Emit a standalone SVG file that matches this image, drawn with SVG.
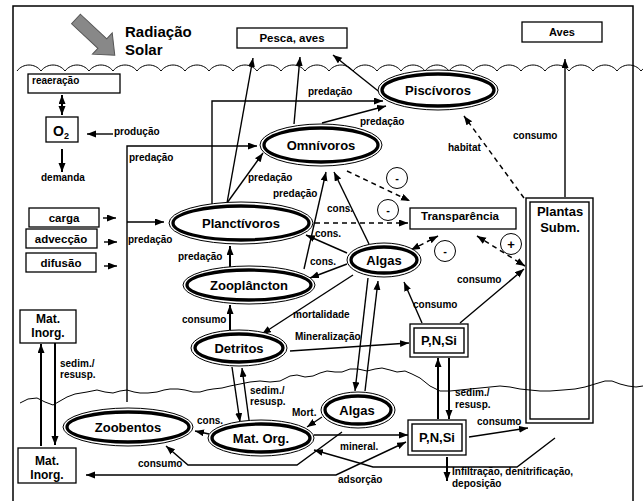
<svg xmlns="http://www.w3.org/2000/svg" width="643" height="501" viewBox="0 0 643 501">
<style>
text{font-family:"Liberation Sans",Arial,sans-serif;font-weight:bold;fill:#000}
.lb{font-size:10px}
.nd{font-size:13px;text-anchor:middle}
.bx{font-size:11.5px;text-anchor:middle}
.c{fill:none;stroke:#000;stroke-width:1.4}
.t{stroke-width:2}
.d{fill:none;stroke:#000;stroke-width:1.5;stroke-dasharray:5 4}
.box{fill:#fff;stroke:#000;stroke-width:1.3}
.eo{fill:#fff;stroke:#000;stroke-width:1}
.ei{fill:#fff;stroke:#000;stroke-width:3.3}
.db{fill:none;stroke:#000;stroke-width:1.4}
.sg{fill:#fff;stroke:#000;stroke-width:1}
.wave{fill:none;stroke:#000;stroke-width:1}
</style>
<defs>
<marker id="ah" markerUnits="userSpaceOnUse" markerWidth="10" markerHeight="8" refX="9" refY="3.5" orient="auto-start-reverse"><path d="M0,0 L9,3.5 L0,7 z" fill="#000"/></marker>
</defs>
<rect width="643" height="501" fill="#fff"/>
<rect x="13" y="6" width="620" height="520" fill="none" stroke="#000" stroke-width="1.5"/>

<g id="sun">
<polygon transform="translate(76,19) rotate(43)" points="0,-6.5 36,-6.5 36,-14.5 53,0 36,14.5 36,6.5 0,6.5" fill="#888" stroke="#555" stroke-width="1"/>
<text x="125" y="37" style="font-size:15px">Radiação</text>
<text x="125" y="55" style="font-size:15px">Solar</text>
</g>

<g id="surface">
<path class="wave" d="M17,71 c6,-8 18,-8 24,0 c6,-8 18,-8 24,0 c6,-8 18,-8 24,0 c6,-8 18,-8 24,0 c6,-8 18,-8 24,0 c6,-8 18,-8 24,0 c6,-8 18,-8 24,0 c6,-8 18,-8 24,0 c6,-8 18,-8 24,0 c6,-8 18,-8 24,0 c6,-8 18,-8 24,0 c6,-8 18,-8 24,0 c6,-8 18,-8 24,0 c6,-8 18,-8 24,0 c6,-8 18,-8 24,0 c6,-8 18,-8 24,0 c6,-8 18,-8 24,0 c6,-8 18,-8 24,0 c6,-8 18,-8 24,0 c6,-8 18,-8 24,0 c6,-8 18,-8 24,0 c6,-8 18,-8 24,0 c6,-8 18,-8 24,0 c6,-8 18,-8 24,0 c6,-8 18,-8 24,0 c6,-8 18,-8 24,0 c3,-4 6,-3 8,0"/>
<polyline class="wave" stroke-linejoin="round" points="20,403 28,399 37,398 45,402 53,405 60,401 67,397 75,394 87,392 97,390 105,392 113,393 120,391 127,390 134,392 140,393 148,393 157,392 164,390 170,389 178,389 185,390 193,392 200,392 207,390 213,389 222,388 230,386 240,384 250,382 260,381 270,382 280,381 290,376 297,375 305,377 313,376 320,373 327,371 335,372 342,372 350,369 358,369 367,371 375,369 382,368 390,370 397,372 405,371 412,374 420,378 430,386 440,391 450,391 460,390 470,389 480,388 490,387 500,386 510,387 520,389 530,390 540,391 550,391 563,390 575,389 585,387 595,384 605,381 612,381 620,384 628,386 636,387 643,386"/>
</g>

<g id="connectors">
<line class="c" x1="227" y1="203" x2="253" y2="58" marker-end="url(#ah)"/>
<line class="c" x1="294" y1="124" x2="300" y2="57" marker-end="url(#ah)"/>
<line class="c" x1="382" y1="94" x2="333" y2="55" marker-end="url(#ah)"/>
<polyline class="c" points="212,204 212,101 383,101" marker-end="url(#ah)"/>
<line class="c" x1="322" y1="123" x2="386" y2="106" marker-end="url(#ah)"/>
<polyline class="c" points="127,402 127,146 257,146" marker-end="url(#ah)"/>
<line class="c" x1="127" y1="222" x2="164" y2="222" marker-end="url(#ah)"/>
<line class="c" x1="227" y1="203" x2="263" y2="153" marker-end="url(#ah)"/>
<line class="c" x1="304" y1="269" x2="326" y2="172" marker-end="url(#ah)"/>
<line class="c" x1="369" y1="244" x2="334" y2="172" marker-end="url(#ah)"/>
<line class="c" x1="347" y1="253" x2="306" y2="235" marker-end="url(#ah)"/>
<line class="c" x1="347" y1="264" x2="310" y2="278" marker-end="url(#ah)"/>
<line class="c" x1="353" y1="275" x2="262" y2="334" marker-end="url(#ah)"/>
<line class="c t" x1="230" y1="267" x2="230" y2="246" marker-end="url(#ah)"/>
<line class="c t" x1="230" y1="331" x2="230" y2="305" marker-end="url(#ah)"/>
<line class="c" x1="290" y1="351" x2="409" y2="343" marker-end="url(#ah)"/>
<line class="c" x1="368" y1="278" x2="355" y2="391" marker-end="url(#ah)"/>
<line class="c" x1="365" y1="391" x2="378" y2="281" marker-end="url(#ah)"/>
<line class="c" x1="422" y1="323" x2="404" y2="282" marker-end="url(#ah)"/>
<line class="c" x1="460" y1="323" x2="524" y2="269" marker-end="url(#ah)"/>
<line class="c" x1="565" y1="197" x2="565" y2="59" marker-end="url(#ah)"/>
<line class="c t" x1="438" y1="419" x2="438" y2="358" marker-end="url(#ah)"/>
<line class="c t" x1="449" y1="358" x2="449" y2="419" marker-end="url(#ah)"/>
<line class="c" x1="232" y1="367" x2="240" y2="422" marker-end="url(#ah)"/>
<line class="c" x1="249" y1="420" x2="242" y2="368" marker-end="url(#ah)"/>
<line class="c" x1="322" y1="417" x2="307" y2="427" marker-end="url(#ah)"/>
<line class="c" x1="209" y1="434" x2="195" y2="431" marker-end="url(#ah)"/>
<line class="c" x1="314" y1="435" x2="408" y2="435" marker-end="url(#ah)"/>
<polyline class="c" points="86,475 336,475 406,442" marker-start="url(#ah)" marker-end="url(#ah)"/>
<polyline class="c" points="342,432 297,465 188,465 166,446" marker-end="url(#ah)"/>
<polyline class="c" points="555,438 517,467 373,467 314,450" marker-end="url(#ah)"/>
<line class="c" x1="469" y1="437" x2="528" y2="428" marker-end="url(#ah)"/>
<line class="c t" x1="447" y1="457" x2="447" y2="481" marker-end="url(#ah)"/>
<line class="c t" x1="41" y1="446" x2="41" y2="344" marker-end="url(#ah)"/>
<line class="c t" x1="55" y1="343" x2="55" y2="445" marker-end="url(#ah)"/>
<line class="c t" x1="62" y1="95" x2="62" y2="115" marker-start="url(#ah)" marker-end="url(#ah)"/>
<line class="c" x1="113" y1="134" x2="87" y2="134" marker-end="url(#ah)"/>
<line class="c t" x1="62" y1="149" x2="62" y2="172" marker-end="url(#ah)"/>
<line class="c" x1="103" y1="218" x2="116" y2="218" marker-end="url(#ah)"/>
<line class="c" x1="104" y1="242" x2="117" y2="242" marker-end="url(#ah)"/>
<line class="c" x1="104" y1="266" x2="117" y2="266" marker-end="url(#ah)"/>
<line class="d" x1="347" y1="171" x2="410" y2="201" marker-end="url(#ah)"/>
<line class="d" x1="315" y1="223" x2="408" y2="223" marker-end="url(#ah)"/>
<line class="d" x1="411" y1="250" x2="438" y2="236" marker-start="url(#ah)" marker-end="url(#ah)"/>
<line class="d" x1="477" y1="236" x2="525" y2="266" marker-start="url(#ah)" marker-end="url(#ah)"/>
<line class="d" x1="524" y1="198" x2="464" y2="116" marker-end="url(#ah)"/>
</g>

<g id="labels">
<text class="lb" x="114" y="135">produção</text>
<text class="lb" x="129" y="161">predação</text>
<text class="lb" x="41" y="181">demanda</text>
<text class="lb" x="308" y="95">predação</text>
<text class="lb" x="360" y="125">predação</text>
<text class="lb" x="248" y="181">predação</text>
<text class="lb" x="273" y="197">predação</text>
<text class="lb" x="448" y="151">habitat</text>
<text class="lb" x="513" y="139">consumo</text>
<text class="lb" x="327" y="212">cons.</text>
<text class="lb" x="315" y="237">cons.</text>
<text class="lb" x="310" y="265">cons.</text>
<text class="lb" x="178" y="260">predação</text>
<text class="lb" x="128" y="243">predação</text>
<text class="lb" x="182" y="323">consumo</text>
<text class="lb" x="293" y="318">mortalidade</text>
<text class="lb" x="295" y="340">Mineralização</text>
<text class="lb" x="413" y="308">consumo</text>
<text class="lb" x="457" y="283">consumo</text>
<text class="lb" x="60" y="367">sedim./</text>
<text class="lb" x="60" y="378">resusp.</text>
<text class="lb" x="250" y="394">sedim./</text>
<text class="lb" x="250" y="405">resusp.</text>
<text class="lb" x="455" y="396">sedim./</text>
<text class="lb" x="455" y="408">resusp.</text>
<text class="lb" x="292" y="416">Mort.</text>
<text class="lb" x="197" y="424">cons.</text>
<text class="lb" x="138" y="467">consumo</text>
<text class="lb" x="340" y="450">mineral.</text>
<text class="lb" x="338" y="483">adsorção</text>
<text class="lb" x="477" y="425">consumo</text>
<text class="lb" x="452" y="475">Infiltração, denitrificação,</text>
<text class="lb" x="452" y="487">deposição</text>
</g>

<g id="signs">
<circle class="sg" cx="397" cy="178" r="10.5"/><text class="nd" x="397" y="182" style="font-size:11px">-</text>
<circle class="sg" cx="388" cy="210" r="10.5"/><text class="nd" x="388" y="214" style="font-size:11px">-</text>
<circle class="sg" cx="445" cy="251" r="10.5"/><text class="nd" x="445" y="255" style="font-size:11px">-</text>
<circle class="sg" cx="511" cy="244" r="10.5"/><text class="nd" x="511" y="249" style="font-size:13px">+</text>
</g>

<g id="pesca"><rect class="box" x="237" y="28" width="110" height="20"/><text class="bx" x="292" y="42">Pesca, aves</text></g>
<g id="aves"><rect class="box" x="522" y="22" width="80" height="20"/><text class="bx" x="562" y="36" style="font-size:11px">Aves</text></g>
<g id="reaeracao"><rect class="box" x="28" y="74" width="92" height="19"/><text class="lb" x="32" y="84">reaeração</text></g>
<g id="o2"><rect class="box" x="46" y="117" width="32" height="25"/><text x="53" y="136" style="font-size:14px">O</text><text x="64" y="139" style="font-size:9px">2</text></g>
<g id="carga"><rect class="box" x="29" y="208" width="70" height="19"/><text class="bx" x="64" y="222">carga</text></g>
<g id="adveccao"><rect class="box" x="26" y="229" width="71" height="19"/><text class="bx" x="61" y="243">advecção</text></g>
<g id="difusao"><rect class="box" x="26" y="253" width="70" height="19"/><text class="bx" x="61" y="267">difusão</text></g>
<g id="matinorg1"><rect class="box" x="20" y="310" width="56" height="33"/><text class="bx" x="48" y="323" style="font-size:12px">Mat.</text><text class="bx" x="48" y="337" style="font-size:12px">Inorg.</text></g>
<g id="matinorg2"><rect class="box" x="18" y="448" width="58" height="35"/><text class="bx" x="47" y="465" style="font-size:12px">Mat.</text><text class="bx" x="47" y="479" style="font-size:12px">Inorg.</text></g>
<g id="transparencia"><rect class="box" x="410" y="208" width="106" height="21"/><text class="bx" x="460" y="220">Transparência</text></g>

<g id="plantas"><rect class="db" x="526" y="198" width="67" height="225"/><rect class="db" x="530" y="202" width="59" height="217"/><text class="nd" x="560" y="216">Plantas</text><text class="nd" x="560" y="232">Subm.</text></g>
<g id="pnsi1"><rect class="box" x="410" y="324" width="58" height="33" stroke-width="1.4"/><rect class="db" x="414" y="328" width="50" height="25"/><text class="nd" x="439" y="345">P,N,Si</text></g>
<g id="pnsi2"><rect class="box" x="408" y="420" width="58" height="35" stroke-width="1.4"/><rect class="db" x="412" y="424" width="50" height="27"/><text class="nd" x="437" y="442">P,N,Si</text></g>

<g id="piscivoros"><ellipse class="eo" cx="438" cy="90" rx="60" ry="20"/><ellipse class="ei" cx="438" cy="90" rx="56" ry="16"/><text class="nd" x="438" y="95">Piscívoros</text></g>
<g id="omnivoros"><ellipse class="eo" cx="321" cy="145" rx="61" ry="21"/><ellipse class="ei" cx="321" cy="145" rx="57" ry="17"/><text class="nd" x="321" y="150">Omnívoros</text></g>
<g id="planctivoros"><ellipse class="eo" cx="241" cy="223" rx="72" ry="21"/><ellipse class="ei" cx="241" cy="223" rx="68" ry="17"/><text class="nd" x="241" y="228">Planctívoros</text></g>
<g id="zooplancton"><ellipse class="eo" cx="249" cy="285" rx="66" ry="19"/><ellipse class="ei" cx="249" cy="285" rx="62" ry="15"/><text class="nd" x="249" y="290">Zooplâncton</text></g>
<g id="algas1"><ellipse class="eo" cx="384" cy="260" rx="37" ry="17"/><ellipse class="ei" cx="384" cy="260" rx="33" ry="13"/><text class="nd" x="384" y="265">Algas</text></g>
<g id="detritos"><ellipse class="eo" cx="239" cy="348" rx="48" ry="18"/><ellipse class="ei" cx="239" cy="348" rx="44" ry="14"/><text class="nd" x="239" y="353">Detritos</text></g>
<g id="algas2"><ellipse class="eo" cx="358" cy="410" rx="37" ry="18"/><ellipse class="ei" cx="358" cy="410" rx="33" ry="14"/><text class="nd" x="357" y="415">Algas</text></g>
<g id="matorg"><ellipse class="eo" cx="261" cy="438" rx="53" ry="18"/><ellipse class="ei" cx="261" cy="438" rx="49" ry="14"/><text class="nd" x="261" y="443">Mat. Org.</text></g>
<g id="zoobentos"><ellipse class="eo" cx="128" cy="427" rx="65" ry="19"/><ellipse class="ei" cx="128" cy="427" rx="61" ry="15"/><text class="nd" x="128" y="432">Zoobentos</text></g>
</svg>
